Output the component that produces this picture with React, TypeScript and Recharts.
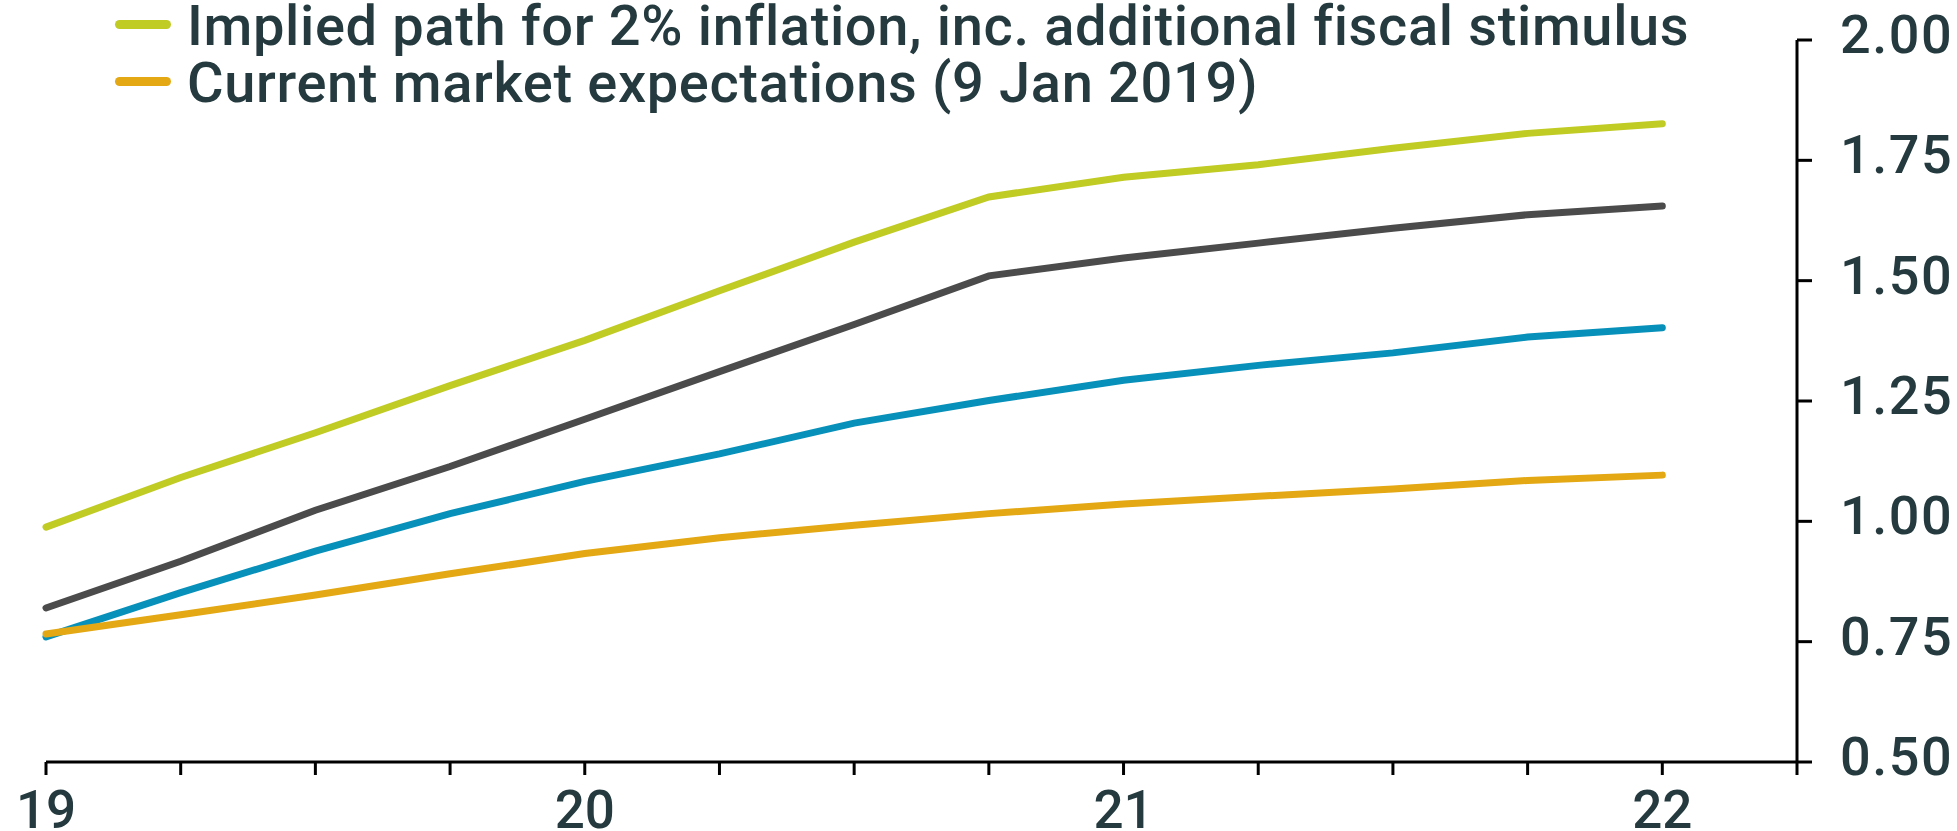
import { LineChart, Line, XAxis, YAxis, Legend } from "recharts"

// quarterly points, 2019 Q1 .. 2022 Q1
const quarters = [2019, 2019.25, 2019.5, 2019.75, 2020, 2020.25, 2020.5, 2020.75, 2021, 2021.25, 2021.5, 2021.75, 2022]

const impliedWithStimulus = [0.988, 1.091, 1.184, 1.282, 1.376, 1.479, 1.58, 1.674, 1.715, 1.741, 1.775, 1.806, 1.826]
const impliedPathGrey = [0.82, 0.917, 1.023, 1.114, 1.212, 1.311, 1.409, 1.51, 1.547, 1.578, 1.609, 1.637, 1.655]
const impliedPathBlue = [0.76, 0.852, 0.938, 1.016, 1.083, 1.14, 1.204, 1.251, 1.293, 1.324, 1.35, 1.383, 1.402]
const marketExpectations = [0.766, 0.806, 0.847, 0.891, 0.933, 0.966, 0.992, 1.016, 1.036, 1.052, 1.067, 1.085, 1.096]

const xTicks = [2019, 2019.25, 2019.5, 2019.75, 2020, 2020.25, 2020.5, 2020.75, 2021, 2021.25, 2021.5, 2021.75, 2022, 2022.25]
const yTicks = [0.5, 0.75, 1, 1.25, 1.5, 1.75, 2]

const STIMULUS_LABEL = "Implied path for 2% inflation, inc. additional fiscal stimulus"
const MARKET_LABEL = "Current market expectations (9 Jan 2019)"
const legendOrder = [STIMULUS_LABEL, MARKET_LABEL]

const data = quarters.map((t, i) => ({
  t,
  stimulus: impliedWithStimulus[i],
  grey: impliedPathGrey[i],
  blue: impliedPathBlue[i],
  market: marketExpectations[i],
}))

const FONT = "Roboto, Arial, sans-serif"
const TEXT = "#243a3e"

function YTick(props: any) {
  const { x, y, payload } = props
  return (
    <text x={x} y={y} dy={13} textAnchor="start" fill={TEXT} fontSize={54} fontWeight={500} fontFamily={FONT} letterSpacing={1.5}>
      {Number(payload.value).toFixed(2)}
    </text>
  )
}

function LegendBox(props: any) {
  const items = (props.payload || [])
    .filter((p: any) => legendOrder.includes(p.value))
    .sort((a: any, b: any) => legendOrder.indexOf(a.value) - legendOrder.indexOf(b.value))
  return (
    <div>
      {items.map((p: any) => (
        <div key={p.value} style={{ position: "relative", height: 57, whiteSpace: "nowrap" }}>
          <span
            style={{
              position: "absolute",
              left: 115,
              top: 20,
              width: 56,
              height: 9,
              borderRadius: 5,
              background: p.color,
            }}
          />
          <span
            style={{
              position: "absolute",
              left: 187,
              top: -2,
              fontSize: 56,
              lineHeight: "57px",
              fontWeight: 500,
              fontFamily: FONT,
              color: TEXT,
              letterSpacing: 0.65,
            }}
          >
            {p.value}
          </span>
        </div>
      ))}
    </div>
  )
}

export default function App() {
  return (
    <div style={{ position: "absolute", left: 0, top: 0, background: "#fff" }}>
      <LineChart width={1957} height={831} data={data} margin={{ top: 40, right: 0, left: 46, bottom: 0 }}>
        <XAxis
          dataKey="t"
          type="number"
          domain={[2019, 2022.25]}
          ticks={xTicks}
          interval={0}
          height={69}
          tickSize={13}
          tickMargin={15}
          stroke="#000"
          strokeWidth={3}
          tick={{ fill: TEXT, fontSize: 53, fontWeight: 500, fontFamily: FONT }}
          tickFormatter={(v: number) => (Number.isInteger(v) ? String(v).slice(2) : "")}
        />
        <YAxis
          orientation="right"
          domain={[0.5, 2]}
          ticks={yTicks}
          interval={0}
          width={160}
          tickSize={15}
          tickMargin={28}
          stroke="#000"
          strokeWidth={3}
          tick={<YTick />}
        />
        <Legend
          layout="vertical"
          align="center"
          verticalAlign="middle"
          wrapperStyle={{ top: 0, left: 0, width: 1800 }}
          content={<LegendBox />}
        />
        <Line
          dataKey="stimulus"
          name={STIMULUS_LABEL}
          stroke="#c0cb24"
          strokeWidth={7}
          strokeLinecap="round"
          dot={false}
          isAnimationActive={false}
        />
        <Line
          dataKey="grey"
          legendType="none"
          stroke="#4b4b4b"
          strokeWidth={7}
          strokeLinecap="round"
          dot={false}
          isAnimationActive={false}
        />
        <Line
          dataKey="blue"
          legendType="none"
          stroke="#0790b9"
          strokeWidth={7}
          strokeLinecap="round"
          dot={false}
          isAnimationActive={false}
        />
        <Line
          dataKey="market"
          name={MARKET_LABEL}
          stroke="#e3a813"
          strokeWidth={7}
          strokeLinecap="round"
          dot={false}
          isAnimationActive={false}
        />
      </LineChart>
    </div>
  )
}
